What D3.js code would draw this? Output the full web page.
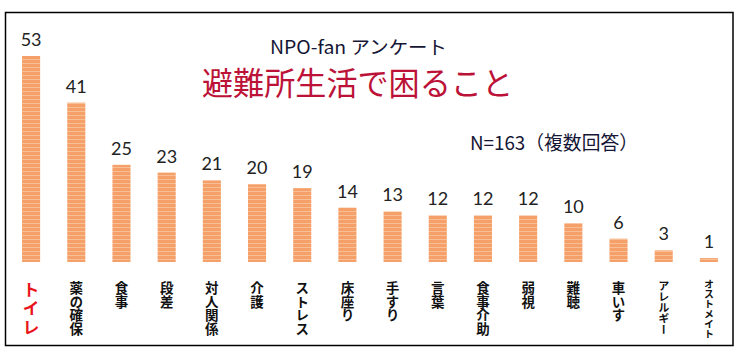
<!DOCTYPE html>
<html><head><meta charset="utf-8">
<script src="https://cdn.jsdelivr.net/npm/d3@7/dist/d3.min.js"></script>
<style>body{margin:0;background:#fff}</style>
</head><body>
<script>
const categories = ["トイレ","薬の確保","食事","段差","対人関係","介護","ストレス","床座り","手すり","言葉","食事介助","弱視","難聴","車いす","アレルギー","オストメイト"];
const values = [53,41,25,23,21,20,19,14,13,12,12,12,10,6,3,1];
const subtitle = "NPO-fan アンケート";
const title = "避難所生活で困ること";
const note = "N=163（複数回答）";

const W = 742, H = 359;
const svg = d3.select("body").append("svg").attr("width", W).attr("height", H);

const defs = svg.append("defs");
const pat = defs.append("pattern").attr("id","stripe").attr("patternUnits","userSpaceOnUse")
  .attr("width", 10).attr("height", 4);
pat.append("rect").attr("width",10).attr("height",4).attr("fill","#f4a068");
pat.append("rect").attr("y",3).attr("width",10).attr("height",1).attr("fill","#f8bf97");

svg.append("rect").attr("x",5.5).attr("y",12.5).attr("width",727.5).attr("height",333)
  .attr("fill","#fff").attr("stroke","#000").attr("stroke-width",1.5);

const x = d3.scaleBand().domain(categories).range([8.5, 731.5]).paddingInner(0.6).paddingOuter(0.3);
const y = d3.scaleLinear().domain([0, 53]).range([262, 56]);

svg.append("g").selectAll("rect").data(values).join("rect")
  .attr("x",(d,i)=>x(categories[i]))
  .attr("width", x.bandwidth())
  .attr("y", d=>y(d))
  .attr("height", d=>y(0)-y(d))
  .attr("fill","url(#stripe)");

svg.append("g").selectAll("text").data(values).join("text")
  .attr("x",(d,i)=>x(categories[i])+x.bandwidth()/2)
  .attr("y", d=>y(d)-10)
  .attr("text-anchor","middle")
  .attr("font-family","Lato, 'Open Sans', sans-serif")
  .attr("font-size",18)
  .attr("fill","#222")
  .text(d=>d);

const labelStyle = (c,i)=>{
  if (i===0) return {size:17, ls:1.8, color:"#e8141c", start:281};
  if (c.length>=6) return {size:10, ls:0, color:"#111", start:279};
  if (c.length===5) return {size:11, ls:0, color:"#111", start:280};
  return {size:13.5, ls:0.3, color:"#111", start:281};
};
const lg = svg.append("g");
categories.forEach((c,i)=>{
  const s = labelStyle(c,i);
  const cx = x(c)+x.bandwidth()/2;
  lg.append("text")
    .attr("x", cx).attr("y", s.start)
    .attr("writing-mode","tb")
    .style("writing-mode","vertical-rl")
    .attr("text-anchor","start")
    .attr("font-family","'Noto Sans CJK JP', sans-serif")
    .attr("font-weight","bold")
    .attr("font-size", s.size)
    .attr("letter-spacing", s.ls)
    .attr("fill", s.color)
    .text(c);
});

svg.append("text").attr("x",270).attr("y",54)
  .attr("font-family","'Noto Sans CJK JP', sans-serif").attr("font-size",18.5)
  .attr("textLength",177).attr("lengthAdjust","spacingAndGlyphs")
  .attr("fill","#151535").text(subtitle);
svg.append("text").attr("x",202).attr("y",95)
  .attr("font-family","'Noto Sans CJK JP', sans-serif").attr("font-size",31.5)
  .attr("textLength",311).attr("lengthAdjust","spacingAndGlyphs")
  .attr("fill","#bc1238").text(title);
svg.append("text").attr("x",470).attr("y",150)
  .attr("font-family","'Noto Sans CJK JP', sans-serif").attr("font-size",19)
  .attr("textLength",168).attr("lengthAdjust","spacingAndGlyphs")
  .attr("fill","#151535").text(note);
</script>
</body></html>
